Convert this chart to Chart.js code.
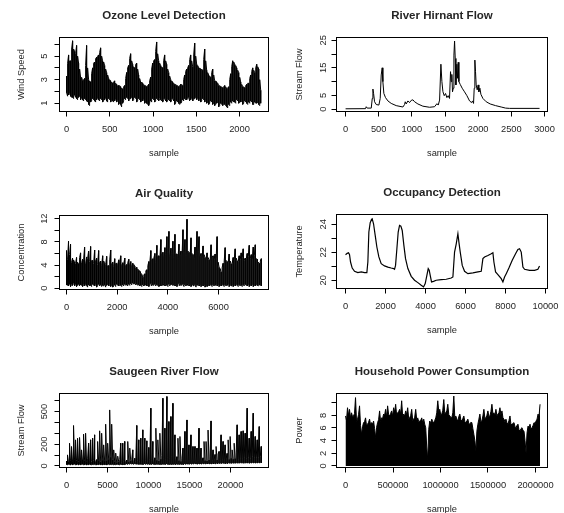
<!DOCTYPE html>
<html>
<head>
<meta charset="utf-8">
<script src="https://cdn.jsdelivr.net/npm/chart.js@4/dist/chart.umd.min.js"></script>
<style>
  html, body { margin: 0; padding: 0; background: #fff; }
  #page { position: relative; width: 564px; height: 513px; }
  #page canvas { position: absolute; left: 0; top: 0; }
</style>
</head>
<body>
<div id="page"></div>
<script>
// Dense series are kept as per-column highs and lows (what a 1px line
// sweeping thousands of samples leaves on screen).

// ozone: wind speed
const ozoneSamples = 2245;
const ozoneHigh = [
  3.3, 4.4, 5.1, 4.6, 4.6, 5.6, 6.3, 5.6, 5.4, 5.2, 5.9, 5.0,
  4.4, 3.9, 3.2, 3.2, 2.9, 3.0, 3.1, 4.2, 5.9, 4.0, 3.0, 2.9,
  2.8, 3.5, 4.0, 4.4, 4.5, 4.8, 4.9, 5.0, 5.1, 5.3, 5.7, 5.0,
  4.6, 4.5, 4.2, 3.9, 3.6, 3.4, 3.1, 3.0, 2.9, 2.8, 2.7, 2.8,
  2.9, 2.7, 2.6, 2.5, 2.5, 2.5, 2.4, 2.3, 2.2, 2.4, 2.5, 3.1,
  3.6, 4.0, 4.2, 4.8, 5.2, 4.6, 4.3, 4.1, 4.0, 4.3, 4.4, 3.9,
  3.4, 3.1, 2.8, 2.8, 2.7, 2.6, 2.5, 2.5, 2.4, 2.5, 2.6, 2.9,
  3.2, 3.9, 4.4, 4.6, 4.7, 5.4, 6.2, 5.2, 4.6, 4.4, 4.2, 4.1,
  4.0, 4.6, 5.1, 4.6, 4.3, 3.9, 3.6, 3.3, 3.0, 2.9, 2.8, 2.7,
  2.6, 2.6, 2.5, 2.5, 2.4, 2.5, 2.6, 2.6, 2.5, 3.0, 3.4, 3.7,
  3.9, 4.0, 4.2, 4.7, 5.1, 4.6, 4.1, 5.1, 6.1, 5.0, 4.3, 4.2,
  4.0, 4.0, 3.9, 3.9, 3.8, 4.7, 5.6, 4.6, 3.8, 3.6, 3.4, 3.3,
  3.2, 3.6, 3.9, 3.4, 2.9, 2.9, 2.8, 2.7, 2.5, 2.5, 2.4, 2.4,
  2.3, 2.4, 2.5, 2.4, 2.2, 2.3, 2.4, 3.0, 3.5, 4.1, 4.6, 4.5,
  4.3, 4.2, 4.0, 3.8, 3.6, 3.2, 2.8, 2.6, 2.4, 2.4, 2.3, 2.5,
  2.6, 2.7, 2.7, 3.1, 3.4, 3.7, 4.0, 3.8, 3.6, 4.0, 4.3, 4.1,
  3.9, 3.0, 2.1
];
const ozoneLow = [
  1.9, 1.6, 1.7, 1.8, 1.6, 1.5, 1.5, 1.4, 1.7, 1.5, 1.4, 1.3,
  1.5, 1.6, 1.3, 1.4, 1.3, 1.2, 1.4, 1.3, 1.2, 1.1, 0.9, 0.8,
  1.1, 1.2, 1.4, 1.3, 1.2, 1.1, 1.3, 1.4, 1.3, 1.2, 1.4, 1.3,
  1.1, 1.2, 1.3, 1.4, 1.2, 1.1, 1.4, 1.3, 1.1, 1.2, 1.2, 1.1,
  1.2, 1.3, 1.1, 1.2, 0.9, 1.0, 0.9, 0.7, 1.0, 1.2, 1.4, 1.3,
  1.5, 1.4, 1.2, 1.3, 1.4, 1.5, 1.2, 1.3, 1.5, 1.4, 1.1, 1.2,
  1.4, 1.3, 1.1, 1.2, 1.2, 1.3, 1.0, 1.1, 1.0, 0.9, 0.8, 1.0,
  1.2, 1.1, 1.4, 1.3, 1.1, 1.2, 1.4, 1.3, 1.2, 1.4, 1.3, 1.2,
  1.1, 1.3, 1.4, 1.2, 1.1, 1.3, 1.3, 1.2, 1.1, 1.3, 1.4, 1.2,
  0.9, 1.0, 1.2, 1.1, 1.0, 0.9, 1.0, 1.1, 1.3, 1.2, 1.4, 1.3,
  1.3, 1.4, 1.5, 1.2, 1.3, 1.4, 1.2, 1.3, 1.4, 1.5, 1.3, 1.4,
  1.2, 1.3, 1.1, 1.2, 1.4, 1.3, 1.1, 1.2, 1.0, 1.1, 0.9, 1.0,
  1.2, 1.1, 0.9, 1.0, 0.8, 0.9, 1.0, 1.1, 0.7, 0.8, 1.0, 0.9,
  0.8, 1.0, 0.9, 0.8, 0.7, 0.6, 0.9, 0.8, 1.1, 1.0, 1.2, 1.1,
  1.1, 1.0, 1.3, 1.2, 1.0, 1.1, 1.1, 1.2, 0.9, 1.0, 1.2, 1.1,
  1.0, 0.9, 1.1, 1.0, 1.2, 1.1, 0.9, 0.9, 1.1, 1.0, 1.0, 1.1,
  0.9, 0.8, 1.0
];

// river hirnant: hydrograph turning points
const hirnantSample = [
  1, 302, 312, 327, 388, 403, 413, 423, 438, 463, 503, 523, 538, 553, 563,
  578, 603, 639, 689, 764, 865, 890, 900, 915, 940, 965, 990, 1016, 1041, 1091,
  1166, 1267, 1342, 1378, 1398, 1418, 1438, 1453, 1468, 1488, 1508, 1528, 1548, 1568, 1583,
  1593, 1603, 1613, 1624, 1634, 1644, 1654, 1664, 1679, 1689, 1699, 1709, 1729, 1759, 1794,
  1830, 1870, 1900, 1915, 1930, 1940, 1950, 1960, 1970, 1985, 2000, 2010, 2026, 2041, 2071,
  2121, 2181, 2262, 2347, 2413, 2473, 2925
];
const hirnantFlow = [
  0.15, 0.2, 0.9, 0.4, 0.4, 3.9, 7.3, 5.7, 2.7, 1.7, 1.5, 3.9, 12.4, 15.0, 10.0,
  5.7, 4.2, 3.0, 2.1, 1.3, 0.8, 1.7, 2.7, 1.9, 3.0, 2.4, 3.2, 3.4, 2.7, 1.9,
  1.1, 0.7, 0.9, 2.0, 1.5, 3.3, 16.3, 10.0, 6.4, 4.9, 5.7, 4.2, 4.9, 3.9, 13.6,
  10.0, 12.6, 6.3, 7.6, 19.6, 24.7, 18.4, 8.8, 16.3, 11.2, 17.0, 10.0, 9.0, 7.6, 6.3,
  4.9, 3.0, 2.4, 3.0, 2.1, 7.6, 17.8, 13.6, 8.8, 7.0, 8.8, 6.3, 7.6, 5.4, 3.9,
  2.7, 1.9, 1.3, 0.8, 0.4, 0.3, 0.3
];

// air quality: CO concentration
const airSamples = 7690;
const airHigh = [
  6.5, 4.9, 8.1, 5.8, 7.6, 4.5, 5.2, 4.9, 4.5, 4.3, 5.3, 4.5, 4.2, 5.3, 6.1, 4.4,
  5.0, 4.9, 7.1, 4.2, 5.4, 5.1, 6.4, 4.6, 7.2, 4.8, 4.8, 4.3, 6.6, 4.7, 5.2, 4.1,
  6.5, 4.5, 4.7, 4.0, 5.6, 4.7, 4.3, 4.1, 5.5, 3.9, 3.9, 4.9, 6.6, 4.2, 4.5, 3.8,
  5.1, 4.3, 4.3, 4.0, 4.9, 4.5, 5.6, 4.0, 4.4, 4.2, 5.2, 3.9, 4.1, 4.4, 5.0, 4.1,
  4.6, 3.9, 4.3, 4.1, 3.8, 3.5, 3.6, 3.3, 3.1, 3.0, 2.6, 2.4, 1.9, 2.3, 2.5, 3.0,
  3.2, 3.9, 4.6, 4.5, 6.5, 4.9, 5.1, 5.2, 6.0, 4.5, 7.4, 5.5, 5.6, 5.1, 8.4, 5.9,
  6.2, 5.4, 7.0, 5.8, 8.9, 6.2, 9.8, 5.5, 6.9, 6.0, 8.1, 5.3, 9.3, 5.9, 5.9, 5.2,
  7.6, 5.7, 6.4, 5.4, 10.1, 6.2, 8.4, 5.6, 11.9, 6.4, 6.2, 5.3, 8.7, 6.0, 5.8, 5.1,
  7.1, 5.7, 9.8, 6.3, 8.9, 5.5, 6.0, 5.2, 7.3, 5.8, 5.3, 4.9, 6.1, 5.3, 4.9, 4.7,
  7.5, 5.4, 5.6, 5.0, 5.9, 5.1, 8.9, 4.5, 3.6, 3.4, 2.8, 3.6, 4.3, 4.5, 7.0, 4.8,
  4.6, 4.4, 5.9, 4.7, 4.2, 4.3, 5.3, 4.9, 6.8, 5.2, 4.7, 4.6, 5.6, 5.0, 6.1, 5.3,
  6.8, 4.8, 5.2, 5.1, 6.0, 5.5, 7.4, 5.2, 5.8, 4.9, 7.1, 5.6, 7.5, 5.1, 5.0, 4.5,
  4.3, 4.7, 5.1
];
const airLow = [
  0.6, 0.5, 0.4, 0.7, 0.3, 0.6, 0.5, 0.8, 0.4, 0.6, 0.3, 0.5, 0.7, 0.4, 0.6,
  0.5, 0.3, 0.6, 0.4, 0.7, 0.5, 0.2, 0.6, 0.4, 0.5, 0.3, 0.7, 0.5, 0.4, 0.6,
  0.2, 0.5, 0.7, 0.4, 0.6, 0.3, 0.5, 0.4, 0.6, 0.2, 0.5, 0.7, 0.4, 0.6, 0.3,
  0.5, 0.2, 0.4, 0.6, 0.3, 0.7, 0.5, 0.4, 0.6, 0.5, 0.3, 0.6, 0.4, 0.7, 0.5,
  0.6, 0.4, 0.7, 0.5, 0.8, 0.6, 0.9, 0.7, 0.8, 0.6, 0.7, 0.5, 0.6, 0.4, 0.5,
  0.3, 0.6, 0.4, 0.5, 0.7, 0.4, 0.6, 0.3, 0.5, 0.8, 0.4, 0.6, 0.5, 0.7, 0.4,
  0.6, 0.5, 0.3, 0.6, 0.4, 0.7, 0.5, 0.8, 0.4, 0.6, 0.5, 0.3, 0.7, 0.4, 0.6,
  0.9, 0.5, 0.7, 0.4, 0.6, 0.3, 0.5, 0.8, 0.4, 0.6, 0.5, 0.7, 0.3, 0.6, 0.4,
  0.5, 0.8, 0.4, 0.6, 0.3, 0.7, 0.5, 0.4, 0.6, 0.2, 0.5, 0.7, 0.4, 0.6, 0.3,
  0.5, 0.4, 0.6, 0.2, 0.5, 0.3, 0.6, 0.4, 0.7, 0.5, 0.3, 0.6, 0.4, 0.5, 0.7,
  0.4, 0.6, 0.3, 0.5, 0.4, 0.7, 0.5, 0.3, 0.6, 0.4, 0.5, 0.7, 0.3, 0.6, 0.4,
  0.5, 0.3, 0.6, 0.4, 0.7, 0.5, 0.3, 0.6, 0.4, 0.5, 0.3, 0.6, 0.4, 0.7, 0.5,
  0.4, 0.6, 0.3, 0.5, 0.4, 0.6, 0.3, 0.5, 0.4, 0.6, 0.5, 0.4, 0.6, 0.5, 0.4
];

// occupancy: room temperature turning points
const occSample = [
  2, 85, 152, 202, 252, 335, 452, 618, 785, 952,
  1068, 1118, 1168, 1235, 1302, 1335, 1402, 1485, 1568, 1668,
  1785, 1952, 2118, 2285, 2402, 2452, 2502, 2569, 2635, 2702,
  2769, 2836, 2919, 3002, 3119, 3286, 3452, 3619, 3786, 3902,
  3986, 4069, 4136, 4186, 4236, 4302, 4402, 4535, 4786, 5036,
  5286, 5370, 5453, 5537, 5620, 5670, 5737, 5837, 5953, 6120,
  6370, 6620, 6786, 6870, 6953, 7120, 7287, 7370, 7420, 7503,
  7620, 7787, 7870, 7953, 8037, 8170, 8337, 8503, 8620, 8703,
  8787, 8870, 8953, 9203, 9453, 9620, 9702
];
const occTemp = [
  21.83, 21.93, 21.97, 21.83, 21.31, 20.88, 20.65, 20.55, 20.60, 20.55,
  20.55, 21.31, 23.45, 24.11, 24.35, 24.39, 24.04, 23.21, 22.38, 21.67,
  21.19, 21.03, 20.95, 20.88, 20.84, 20.79, 21.07, 22.26, 23.45, 23.92,
  23.87, 23.56, 22.50, 21.55, 20.84, 20.29, 20.01, 19.84, 19.65, 19.53,
  19.77, 20.36, 20.84, 20.72, 20.36, 19.89, 19.93, 20.01, 20.05, 20.08,
  20.17, 20.24, 22.02, 22.61, 23.33, 22.73, 22.02, 21.07, 20.65, 20.48,
  20.53, 20.60, 20.65, 21.55, 21.67, 21.78, 21.90, 21.97, 21.31, 20.60,
  20.41, 20.12, 19.89, 20.24, 20.48, 20.88, 21.43, 21.90, 22.21, 22.26,
  22.02, 20.95, 20.79, 20.72, 20.72, 20.79, 21.03
];

// saugeen: daily flow
const saugeenSamples = 23750;
const saugeenHigh = [
  45, 102, 38, 209, 50, 179, 42, 372, 55, 240,
  48, 255, 40, 262, 52, 148, 44, 292, 50, 301,
  36, 65, 209, 46, 240, 40, 255, 48, 286, 42,
  58, 225, 45, 323, 38, 301, 52, 194, 44, 384,
  50, 209, 60, 515, 80, 384, 55, 148, 40, 118,
  32, 90, 40, 60, 209, 35, 209, 44, 225, 38,
  55, 225, 40, 164, 46, 62, 148, 34, 70, 42,
  372, 50, 240, 42, 255, 55, 332, 46, 255, 50,
  231, 44, 170, 58, 531, 48, 225, 40, 75, 347,
  52, 240, 46, 301, 62, 95, 622, 70, 347, 58,
  638, 80, 408, 66, 454, 85, 576, 55, 286, 48,
  85, 255, 50, 271, 42, 68, 164, 48, 317, 52,
  423, 44, 194, 52, 286, 45, 179, 50, 179, 40,
  164, 48, 347, 55, 164, 44, 75, 225, 50, 225,
  46, 330, 55, 90, 414, 50, 148, 60, 105, 179,
  55, 110, 133, 52, 286, 62, 225, 56, 194, 65,
  115, 240, 60, 271, 70, 148, 62, 209, 68, 120,
  378, 62, 286, 72, 317, 65, 323, 75, 301, 68,
  531, 78, 255, 70, 317, 85, 485, 75, 271, 80,
  240, 76, 362, 85, 179
];
const saugeenLow = [
  14, 10, 16, 12, 9, 15, 11, 13, 17, 10, 12, 15, 9, 14, 11,
  13, 16, 10, 12, 15, 9, 13, 11, 16, 12, 10, 14, 12, 15, 11,
  10, 14, 12, 16, 11, 13, 9, 15, 12, 14, 10, 13, 16, 11, 14,
  12, 15, 10, 13, 11, 14, 16, 12, 10, 15, 13, 11, 14, 12, 16,
  18, 14, 20, 16, 22, 17, 19, 15, 21, 18, 16, 20, 14, 18, 15,
  17, 13, 16, 19, 14, 18, 15, 17, 13, 16, 14, 18, 15, 13, 17,
  15, 18, 14, 16, 13, 17, 15, 19, 14, 16, 18, 15, 13, 17, 14,
  16, 14, 18, 15, 13, 17, 16, 14, 18, 15, 17, 13, 16, 19, 15,
  18, 20, 16, 22, 19, 17, 21, 18, 23, 20, 17, 22, 19, 21, 18,
  20, 23, 19, 22, 18, 21, 24, 20, 22, 19, 23, 21, 25, 20, 22,
  24, 21, 26, 22, 25, 23, 27, 24, 22, 26, 23, 25, 28, 24, 26,
  25, 28, 24, 27, 26, 29, 25, 28, 27, 30, 26, 28, 25, 29, 27,
  28, 30, 26, 29, 27, 31, 28, 30, 27, 29, 28, 31, 29, 30, 28
];

// household power: global active power, column maxima (minima sit near 0)
const powerSamples = 2048000;
const powerHigh = [
  7.9, 7.2, 9.2, 8.0, 8.95, 7.6, 8.4, 7.8, 7.9, 8.3,
  10.8, 7.0, 7.4, 8.1, 9.5, 6.4, 5.0, 6.2, 6.85, 7.0,
  7.6, 6.3, 6.6, 6.9, 7.4, 6.5, 6.85, 6.6, 7.1, 5.9,
  4.5, 6.1, 6.85, 7.3, 8.7, 7.0, 7.6, 7.5, 8.2, 8.0,
  8.95, 7.7, 9.5, 8.1, 7.9, 8.3, 8.7, 7.9, 9.2, 8.5,
  9.75, 8.0, 8.4, 8.6, 8.95, 8.2, 10.3, 7.8, 8.2, 7.9,
  8.7, 8.1, 9.2, 7.5, 7.6, 8.0, 8.95, 7.2, 7.4, 7.7,
  8.95, 7.3, 7.6, 7.0, 7.1, 7.2, 7.6, 6.8, 7.4, 6.6,
  6.05, 3.0, 1.0, 5.8, 7.1, 6.7, 7.4, 7.0, 6.85, 7.2,
  7.6, 8.4, 10.3, 8.6, 8.95, 8.0, 8.2, 8.8, 10.5, 8.3,
  8.4, 8.7, 9.75, 8.1, 7.9, 7.7, 7.6, 8.4, 11.05, 7.6,
  7.9, 7.4, 7.1, 7.8, 8.2, 7.3, 7.1, 7.5, 7.9, 7.0,
  6.85, 7.1, 7.4, 6.7, 6.6, 6.9, 6.85, 5.9, 5.0, 4.0,
  2.4, 5.5, 6.6, 7.4, 8.2, 7.0, 7.1, 7.9, 8.95, 7.5,
  7.6, 8.0, 8.7, 7.8, 7.9, 8.6, 9.75, 8.2, 8.4, 8.0,
  8.95, 7.9, 8.2, 8.4, 9.2, 8.1, 8.7, 7.6, 7.4, 7.0,
  7.4, 6.8, 6.6, 7.2, 7.9, 6.5, 6.6, 6.7, 6.85, 6.2,
  6.05, 6.4, 6.6, 5.7, 5.5, 5.9, 6.05, 5.6, 5.5, 4.0,
  2.1, 5.2, 6.3, 6.1, 6.6, 5.8, 6.05, 6.4, 6.85, 6.7,
  7.1, 7.4, 8.2, 7.9, 9.75
];

// axis ticks (labels that would collide are left off, so labels are a subset)
const ozoneXTicks = [0, 500, 1000, 1500, 2000];
const ozoneYTicks = [1, 2, 3, 4, 5, 6];
const ozoneYLabels = [1, 3, 5];
const hirnantXTicks = [0, 500, 1000, 1500, 2000, 2500, 3000];
const hirnantYTicks = [0, 5, 10, 15, 20, 25];
const hirnantYLabels = [0, 5, 15, 25];
const airXTicks = [0, 2000, 4000, 6000];
const airYTicks = [0, 2, 4, 6, 8, 10, 12];
const airYLabels = [0, 4, 8, 12];
const occXTicks = [0, 2000, 4000, 6000, 8000, 10000];
const occYTicks = [20, 21, 22, 23, 24];
const occYLabels = [20, 22, 24];
const saugeenXTicks = [0, 5000, 10000, 15000, 20000];
const saugeenYTicks = [0, 100, 200, 300, 400, 500, 600];
const saugeenYLabels = [0, 200, 500];
const powerXTicks = [0, 500000, 1000000, 1500000, 2000000];
const powerYTicks = [0, 2, 4, 6, 8, 10];
const powerYLabels = [0, 2, 4, 6, 8];

const W = 564, H = 513;
const FONT = '"Liberation Sans", Arial, sans-serif';
const INK = '#262626';

// one vertical stroke per column: high then low, alternating direction
function columns(highs, lows, n) {
  const step = (n - 1) / (highs.length - 1);
  const pts = [];
  highs.forEach((h, i) => {
    const x = 1 + i * step;
    if (i % 2) pts.push({ x: x, y: lows[i] }, { x: x, y: h });
    else pts.push({ x: x, y: h }, { x: x, y: lows[i] });
  });
  return pts;
}
function spread(vals, n) {
  const step = (n - 1) / (vals.length - 1);
  return vals.map((v, i) => ({ x: 1 + i * step, y: v }));
}
function pairs(xs, ys) {
  return xs.map((x, i) => ({ x: x, y: ys[i] }));
}

// box = border pixel columns/rows [left, top, right, bottom]
const panels = [
  { title: 'Ozone Level Detection', yTitle: 'Wind Speed', box: [59, 37, 268, 111],
    data: columns(ozoneHigh, ozoneLow, ozoneSamples), xlim: [-81, 2335], ylim: [0.3, 6.58],
    xTicks: ozoneXTicks, yTicks: ozoneYTicks, yLabels: ozoneYLabels, lw: 1, gap: [15, 38] },
  { title: 'River Hirnant Flow', yTitle: 'Stream Flow', box: [336, 37, 547, 111],
    data: pairs(hirnantSample, hirnantFlow), xlim: [-136, 3045], ylim: [-0.83, 25.98],
    xTicks: hirnantXTicks, yTicks: hirnantYTicks, yLabels: hirnantYLabels, lw: 1, gap: [13, 37] },
  { title: 'Air Quality', yTitle: 'Concentration', box: [59, 215, 268, 289],
    data: columns(airHigh, airLow, airSamples), xlim: [-276, 7974], ylim: [-0.21, 12.55],
    xTicks: airXTicks, yTicks: airYTicks, yLabels: airYLabels, lw: 1, gap: [15, 38] },
  { title: 'Occupancy Detection', yTitle: 'Temperature', box: [336, 214, 547, 288],
    data: pairs(occSample, occTemp), xlim: [-450, 10100], ylim: [19.42, 24.70],
    xTicks: occXTicks, yTicks: occYTicks, yLabels: occYLabels, lw: 1.2, gap: [13, 37] },
  { title: 'Saugeen River Flow', yTitle: 'Stream Flow', box: [59, 393, 268, 467],
    data: columns(saugeenHigh, saugeenLow, saugeenSamples), xlim: [-854, 24634], ylim: [-14, 666],
    xTicks: saugeenXTicks, yTicks: saugeenYTicks, yLabels: saugeenYLabels, lw: 1, gap: [15, 38] },
  { title: 'Household Power Consumption', yTitle: 'Power', box: [336, 393, 547, 467],
    data: spread(powerHigh, powerSamples), fill: 'origin', xlim: [-94737, 2126316], ylim: [-0.24, 11.45],
    xTicks: powerXTicks, yTicks: powerYTicks, yLabels: powerYLabels, lw: 1, gap: [13, 37] }
];

// base-graphics style frame: box, outward ticks, rotated y labels, titles
function rFrame(p) {
  return {
    id: 'rFrame',
    afterDraw(chart) {
      const ctx = chart.ctx, a = chart.chartArea;
      const xs = chart.scales.x, ys = chart.scales.y;
      const snap = v => Math.round(v - 0.5) + 0.5;
      ctx.save();
      ctx.strokeStyle = '#000';
      ctx.lineWidth = 1;
      ctx.strokeRect(a.left, a.top, a.right - a.left, a.bottom - a.top);

      ctx.beginPath();
      p.xTicks.forEach(v => {
        const px = snap(xs.getPixelForValue(v));
        ctx.moveTo(px, a.bottom);
        ctx.lineTo(px, a.bottom + 5);
      });
      p.yTicks.forEach(v => {
        const py = snap(ys.getPixelForValue(v));
        ctx.moveTo(a.left, py);
        ctx.lineTo(a.left - 5, py);
      });
      ctx.stroke();

      ctx.fillStyle = INK;
      ctx.textAlign = 'center';
      ctx.textBaseline = 'middle';
      ctx.font = '9.3px ' + FONT;
      p.xTicks.forEach(v => ctx.fillText(String(v), xs.getPixelForValue(v), a.bottom + 18));
      p.yLabels.forEach(v => {
        ctx.save();
        ctx.translate(a.left - p.gap[0], ys.getPixelForValue(v));
        ctx.rotate(-Math.PI / 2);
        ctx.fillText(String(v), 0, 0);
        ctx.restore();
      });

      const cx = (a.left + a.right) / 2;
      ctx.fillText('sample', cx, a.bottom + 42);
      ctx.save();
      ctx.translate(a.left - p.gap[1], (a.top + a.bottom) / 2);
      ctx.rotate(-Math.PI / 2);
      ctx.fillText(p.yTitle, 0, 0);
      ctx.restore();

      ctx.font = 'bold 11.5px ' + FONT;
      ctx.fillText(p.title, cx, a.top - 21.5);
      ctx.restore();
    }
  };
}

const page = document.getElementById('page');
panels.forEach(p => {
  const cv = document.createElement('canvas');
  cv.width = W;
  cv.height = H;
  page.appendChild(cv);
  const [l, t, r, b] = p.box;
  new Chart(cv, {
    type: 'line',
    data: {
      datasets: [{
        data: p.data,
        borderColor: '#000',
        backgroundColor: '#000',
        borderWidth: p.lw,
        pointRadius: 0,
        tension: 0,
        fill: p.fill || false
      }]
    },
    options: {
      responsive: false,
      animation: false,
      events: [],
      parsing: false,
      normalized: true,
      layout: { padding: { left: l + 0.5, top: t + 0.5, right: W - r - 0.5, bottom: H - b - 0.5 } },
      scales: {
        x: { type: 'linear', display: false, min: p.xlim[0], max: p.xlim[1] },
        y: { type: 'linear', display: false, min: p.ylim[0], max: p.ylim[1] }
      },
      plugins: { legend: { display: false }, tooltip: { enabled: false } }
    },
    plugins: [rFrame(p)]
  });
});
</script>
</body>
</html>
